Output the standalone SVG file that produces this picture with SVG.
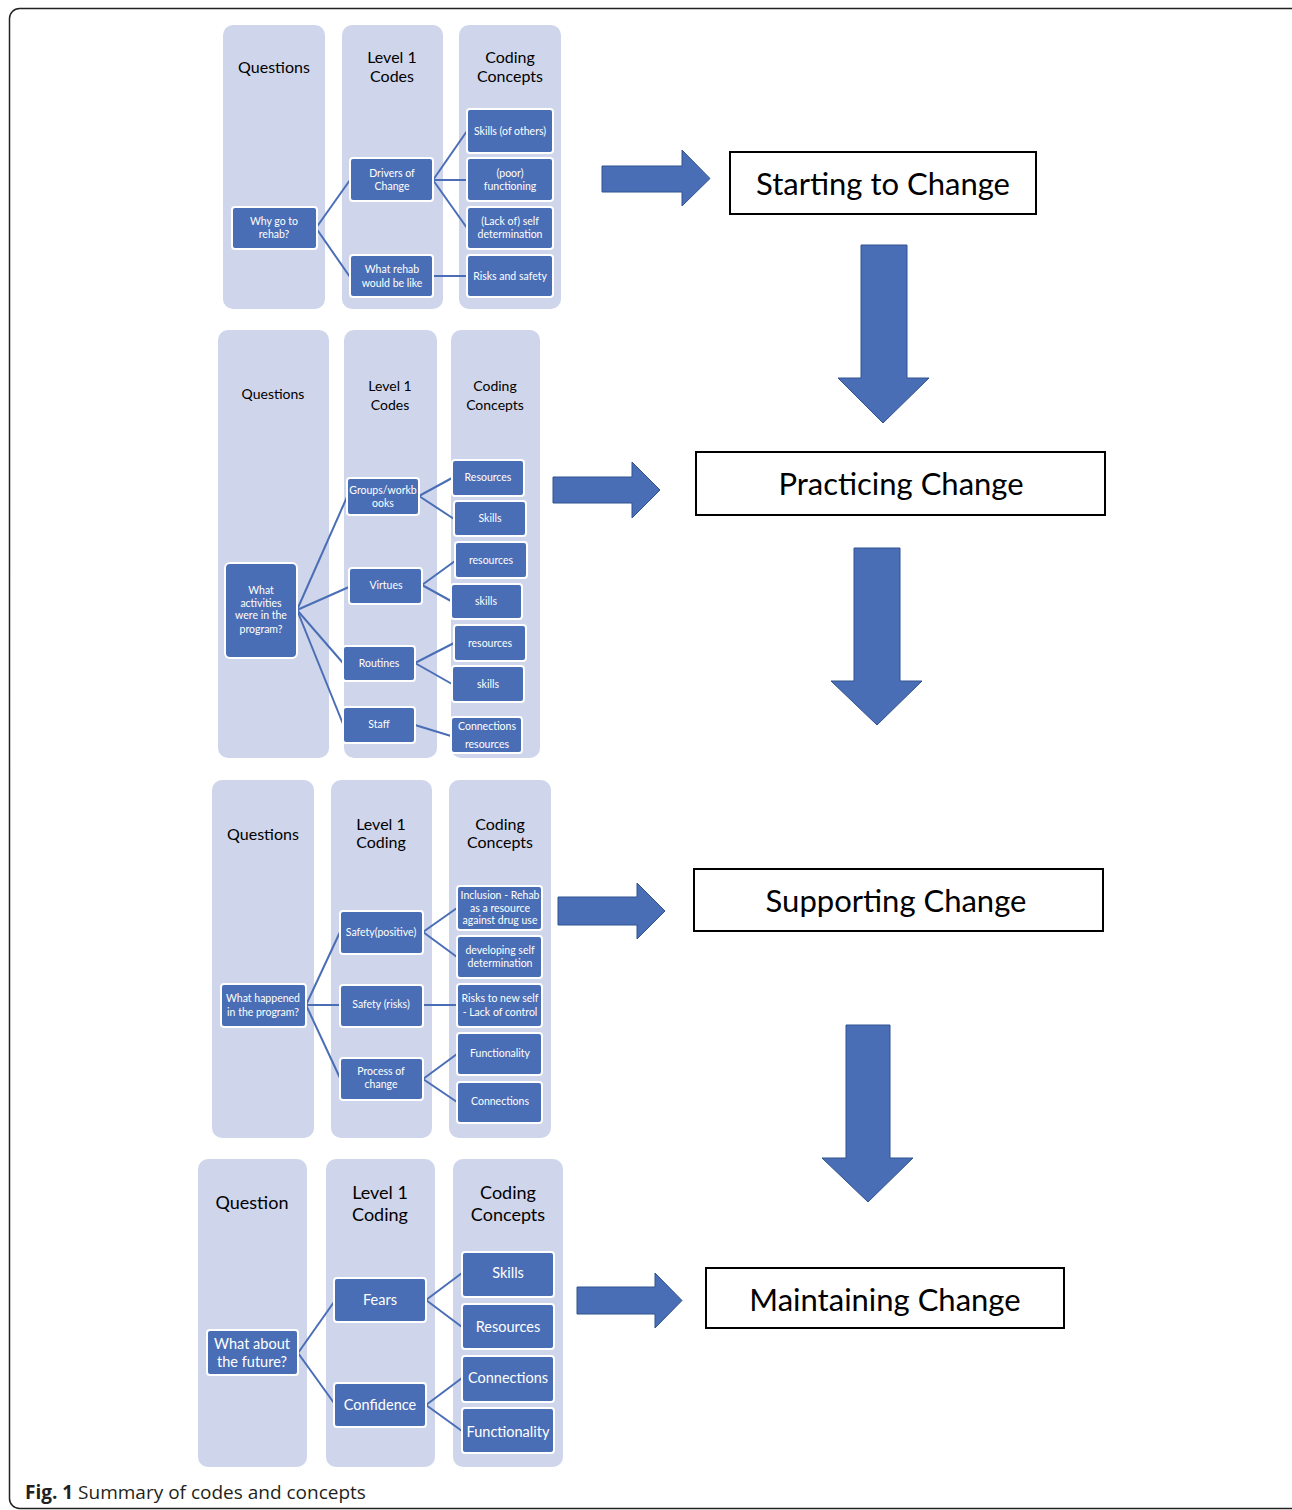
<svg xmlns="http://www.w3.org/2000/svg" width="1292" height="1510" viewBox="0 0 1292 1510">
<style>
.col{fill:#CFD5EA}
.nd{fill:#4A6EB6;stroke:#ffffff;stroke-width:2}
.hd{font-family:Lato,"Liberation Sans",sans-serif;fill:#000;text-anchor:middle}
.nt{font-family:Lato,"Liberation Sans",sans-serif;fill:#fff;text-anchor:middle}
.cn{stroke:#4A6EB6;stroke-width:2;fill:none}
.ar{fill:#4A6EB6;stroke:#2F528F;stroke-width:1}
.bx{fill:#fff;stroke:#000;stroke-width:2}
.bt{font-family:Lato,"Liberation Sans",sans-serif;font-size:31px;fill:#000;text-anchor:middle}
</style>
<rect width="1292" height="1510" fill="#fff"/>
<rect x="9.5" y="8.5" width="1292" height="1500" rx="10" fill="none" stroke="#222" stroke-width="1.5"/>

<!-- Panel 1 columns -->
<g id="p1-columns">
<rect class="col" x="223" y="25" width="102" height="284" rx="10"/>
<rect class="col" x="342" y="25" width="101" height="284" rx="10"/>
<rect class="col" x="459" y="25" width="102" height="284" rx="10"/>
<text class="hd" font-size="16"><tspan x="274" y="73">Questions</tspan></text>
<text class="hd" font-size="16"><tspan x="392" y="63">Level 1</tspan><tspan x="392" y="82">Codes</tspan></text>
<text class="hd" font-size="16"><tspan x="510" y="63">Coding</tspan><tspan x="510" y="82">Concepts</tspan></text>
</g>
<g id="connectors">
<!-- panel 1 -->
<line class="cn" x1="316" y1="228" x2="350" y2="180"/>
<line class="cn" x1="316" y1="228" x2="350" y2="277"/>
<line class="cn" x1="433" y1="180" x2="467" y2="131"/>
<line class="cn" x1="433" y1="180" x2="467" y2="180"/>
<line class="cn" x1="433" y1="180" x2="467" y2="228"/>
<line class="cn" x1="433" y1="276" x2="467" y2="276"/>
</g>
<g id="p1-why"><rect class="nd" x="232" y="207" width="85" height="42" rx="3"/><text class="nt" font-size="10.5"><tspan x="274" y="225">Why go to</tspan><tspan x="274" y="238">rehab?</tspan></text></g>
<g id="p1-drivers"><rect class="nd" x="350" y="158" width="83" height="43" rx="3"/><text class="nt" font-size="10.5"><tspan x="392" y="177">Drivers of</tspan><tspan x="392" y="190">Change</tspan></text></g>
<g id="p1-whatrehab"><rect class="nd" x="350" y="255" width="83" height="42" rx="3"/><text class="nt" font-size="10.5"><tspan x="392" y="273">What rehab</tspan><tspan x="392" y="287">would be like</tspan></text></g>
<g id="p1-skills"><rect class="nd" x="467" y="109" width="86" height="44" rx="3"/><text class="nt" font-size="10.5"><tspan x="510" y="135">Skills (of others)</tspan></text></g>
<g id="p1-poor"><rect class="nd" x="467" y="158" width="86" height="43" rx="3"/><text class="nt" font-size="10.5"><tspan x="510" y="177">(poor)</tspan><tspan x="510" y="190">functioning</tspan></text></g>
<g id="p1-lack"><rect class="nd" x="467" y="207" width="86" height="42" rx="3"/><text class="nt" font-size="10.5"><tspan x="510" y="225">(Lack of) self</tspan><tspan x="510" y="238">determination</tspan></text></g>
<g id="p1-risks"><rect class="nd" x="467" y="255" width="86" height="42" rx="3"/><text class="nt" font-size="10.5"><tspan x="510" y="280">Risks and safety</tspan></text></g>

<!-- Panel 2 -->
<g id="p2-columns">
<rect class="col" x="218" y="330" width="111" height="428" rx="10"/>
<rect class="col" x="344" y="330" width="93" height="428" rx="10"/>
<rect class="col" x="451" y="330" width="89" height="428" rx="10"/>
<text class="hd" font-size="14"><tspan x="273" y="399">Questions</tspan></text>
<text class="hd" font-size="14"><tspan x="390" y="391">Level 1</tspan><tspan x="390" y="410">Codes</tspan></text>
<text class="hd" font-size="14"><tspan x="495" y="391">Coding</tspan><tspan x="495" y="410">Concepts</tspan></text>
</g>
<g id="connectors-2">
<line class="cn" x1="297" y1="610" x2="347" y2="497"/>
<line class="cn" x1="297" y1="610" x2="349" y2="587"/>
<line class="cn" x1="297" y1="610" x2="343" y2="663"/>
<line class="cn" x1="297" y1="610" x2="343" y2="724"/>
<line class="cn" x1="419" y1="496" x2="452" y2="478"/>
<line class="cn" x1="419" y1="496" x2="454" y2="519"/>
<line class="cn" x1="422" y1="585" x2="455" y2="561"/>
<line class="cn" x1="422" y1="585" x2="451" y2="601"/>
<line class="cn" x1="415" y1="663" x2="454" y2="643"/>
<line class="cn" x1="415" y1="663" x2="452" y2="684"/>
<line class="cn" x1="415" y1="725" x2="451" y2="736"/>
</g>
<g id="p2-what"><rect class="nd" x="225" y="563" width="72" height="95" rx="5"/><text class="nt" font-size="10.5"><tspan x="261" y="594">What</tspan><tspan x="261" y="607">activities</tspan><tspan x="261" y="619">were in the</tspan><tspan x="261" y="633">program?</tspan></text></g>
<g id="p2-groups"><rect class="nd" x="347" y="478" width="72" height="37" rx="3"/><text class="nt" font-size="10.5"><tspan x="383" y="494">Groups/workb</tspan><tspan x="383" y="507">ooks</tspan></text></g>
<g id="p2-virtues"><rect class="nd" x="349" y="568" width="73" height="36" rx="3"/><text class="nt" font-size="10.5"><tspan x="386" y="589">Virtues</tspan></text></g>
<g id="p2-routines"><rect class="nd" x="343" y="646" width="72" height="35" rx="3"/><text class="nt" font-size="10.5"><tspan x="379" y="667">Routines</tspan></text></g>
<g id="p2-staff"><rect class="nd" x="343" y="707" width="72" height="36" rx="3"/><text class="nt" font-size="10.5"><tspan x="379" y="728">Staff</tspan></text></g>
<g id="p2-resources1"><rect class="nd" x="452" y="460" width="72" height="36" rx="3"/><text class="nt" font-size="10.5"><tspan x="488" y="481">Resources</tspan></text></g>
<g id="p2-skills1"><rect class="nd" x="454" y="501" width="72" height="35" rx="3"/><text class="nt" font-size="10.5"><tspan x="490" y="522">Skills</tspan></text></g>
<g id="p2-resources2"><rect class="nd" x="455" y="542" width="72" height="36" rx="3"/><text class="nt" font-size="10.5"><tspan x="491" y="564">resources</tspan></text></g>
<g id="p2-skills2"><rect class="nd" x="451" y="584" width="71" height="35" rx="3"/><text class="nt" font-size="10.5"><tspan x="486" y="605">skills</tspan></text></g>
<g id="p2-resources3"><rect class="nd" x="454" y="625" width="72" height="36" rx="3"/><text class="nt" font-size="10.5"><tspan x="490" y="647">resources</tspan></text></g>
<g id="p2-skills3"><rect class="nd" x="452" y="666" width="72" height="36" rx="3"/><text class="nt" font-size="10.5"><tspan x="488" y="688">skills</tspan></text></g>
<g id="p2-connections"><rect class="nd" x="451" y="717" width="71" height="36" rx="3"/><text class="nt" font-size="10.5"><tspan x="487" y="730">Connections</tspan><tspan x="487" y="748">resources</tspan></text></g>

<!-- Panel 3 -->
<g id="p3-columns">
<rect class="col" x="212" y="780" width="102" height="358" rx="10"/>
<rect class="col" x="331" y="780" width="101" height="358" rx="10"/>
<rect class="col" x="449" y="780" width="102" height="358" rx="10"/>
<text class="hd" font-size="16"><tspan x="263" y="840">Questions</tspan></text>
<text class="hd" font-size="16"><tspan x="381" y="830">Level 1</tspan><tspan x="381" y="848">Coding</tspan></text>
<text class="hd" font-size="16"><tspan x="500" y="830">Coding</tspan><tspan x="500" y="848">Concepts</tspan></text>
</g>
<g id="connectors-3">
<line class="cn" x1="306" y1="1005" x2="340" y2="932"/>
<line class="cn" x1="306" y1="1005" x2="340" y2="1005"/>
<line class="cn" x1="306" y1="1005" x2="340" y2="1078"/>
<line class="cn" x1="423" y1="932" x2="457" y2="908"/>
<line class="cn" x1="423" y1="932" x2="457" y2="957"/>
<line class="cn" x1="423" y1="1005" x2="457" y2="1005"/>
<line class="cn" x1="423" y1="1079" x2="457" y2="1054"/>
<line class="cn" x1="423" y1="1079" x2="457" y2="1102"/>
</g>
<g id="p3-what"><rect class="nd" x="221" y="984" width="85" height="43" rx="3"/><text class="nt" font-size="10.5"><tspan x="263" y="1002">What happened</tspan><tspan x="263" y="1016">in the program?</tspan></text></g>
<g id="p3-safetypos"><rect class="nd" x="340" y="911" width="83" height="43" rx="3"/><text class="nt" font-size="10.5"><tspan x="381" y="936">Safety(positive)</tspan></text></g>
<g id="p3-safetyrisks"><rect class="nd" x="340" y="985" width="83" height="42" rx="3"/><text class="nt" font-size="10.5"><tspan x="381" y="1008">Safety (risks)</tspan></text></g>
<g id="p3-process"><rect class="nd" x="340" y="1058" width="83" height="42" rx="3"/><text class="nt" font-size="10.5"><tspan x="381" y="1075">Process of</tspan><tspan x="381" y="1088">change</tspan></text></g>
<g id="p3-inclusion"><rect class="nd" x="457" y="886" width="85" height="44" rx="3"/><text class="nt" font-size="10.5"><tspan x="500" y="899">Inclusion - Rehab</tspan><tspan x="500" y="912">as a resource</tspan><tspan x="500" y="924">against drug use</tspan></text></g>
<g id="p3-developing"><rect class="nd" x="457" y="936" width="85" height="42" rx="3"/><text class="nt" font-size="10.5"><tspan x="500" y="954">developing self</tspan><tspan x="500" y="967">determination</tspan></text></g>
<g id="p3-risks"><rect class="nd" x="457" y="984" width="85" height="43" rx="3"/><text class="nt" font-size="10.5"><tspan x="500" y="1002">Risks to new self</tspan><tspan x="500" y="1016">- Lack of control</tspan></text></g>
<g id="p3-functionality"><rect class="nd" x="457" y="1033" width="85" height="42" rx="3"/><text class="nt" font-size="10.5"><tspan x="500" y="1057">Functionality</tspan></text></g>
<g id="p3-connections"><rect class="nd" x="457" y="1082" width="85" height="41" rx="3"/><text class="nt" font-size="10.5"><tspan x="500" y="1105">Connections</tspan></text></g>

<!-- Panel 4 -->
<g id="p4-columns">
<rect class="col" x="198" y="1159" width="109" height="308" rx="10"/>
<rect class="col" x="326" y="1159" width="109" height="308" rx="10"/>
<rect class="col" x="453" y="1159" width="110" height="308" rx="10"/>
<text class="hd" font-size="18"><tspan x="252" y="1209">Question</tspan></text>
<text class="hd" font-size="18"><tspan x="380" y="1199">Level 1</tspan><tspan x="380" y="1221">Coding</tspan></text>
<text class="hd" font-size="18"><tspan x="508" y="1199">Coding</tspan><tspan x="508" y="1221">Concepts</tspan></text>
</g>
<g id="connectors-4">
<line class="cn" x1="298" y1="1353" x2="334" y2="1302"/>
<line class="cn" x1="298" y1="1353" x2="334" y2="1403"/>
<line class="cn" x1="426" y1="1300" x2="462" y2="1273"/>
<line class="cn" x1="426" y1="1300" x2="462" y2="1327"/>
<line class="cn" x1="426" y1="1405" x2="462" y2="1378"/>
<line class="cn" x1="426" y1="1405" x2="462" y2="1431"/>
</g>
<g id="p4-what"><rect class="nd" x="207" y="1330" width="91" height="45" rx="3"/><text class="nt" font-size="14.5"><tspan x="252" y="1349">What about</tspan><tspan x="252" y="1367">the future?</tspan></text></g>
<g id="p4-fears"><rect class="nd" x="334" y="1278" width="92" height="44" rx="3"/><text class="nt" font-size="14.5"><tspan x="380" y="1305">Fears</tspan></text></g>
<g id="p4-confidence"><rect class="nd" x="334" y="1383" width="92" height="44" rx="3"/><text class="nt" font-size="14.5"><tspan x="380" y="1410">Confidence</tspan></text></g>
<g id="p4-skills"><rect class="nd" x="462" y="1252" width="92" height="45" rx="3"/><text class="nt" font-size="14.5"><tspan x="508" y="1278">Skills</tspan></text></g>
<g id="p4-resources"><rect class="nd" x="462" y="1304" width="92" height="45" rx="3"/><text class="nt" font-size="14.5"><tspan x="508" y="1332">Resources</tspan></text></g>
<g id="p4-connections"><rect class="nd" x="462" y="1356" width="92" height="46" rx="3"/><text class="nt" font-size="14.5"><tspan x="508" y="1383">Connections</tspan></text></g>
<g id="p4-functionality"><rect class="nd" x="462" y="1408" width="92" height="45" rx="3"/><text class="nt" font-size="14.5"><tspan x="508" y="1437">Functionality</tspan></text></g>

<!-- Block arrows -->
<g id="arrows">
<path class="ar" d="M602,166 H682 V150 L710,178.5 L682,206 V192 H602 Z"/>
<path class="ar" d="M861,245 H907 V378 H929 L883,423 L838,378 H861 Z"/>
<path class="ar" d="M553,477 H632 V462 L660,490 L632,518 V503 H553 Z"/>
<path class="ar" d="M854,548 H900 V681 H922 L877,725 L831,681 H854 Z"/>
<path class="ar" d="M558,897 H637 V883 L665,911 L637,939 V925 H558 Z"/>
<path class="ar" d="M846,1025 H890 V1158 H913 L868,1202 L822,1158 H846 Z"/>
<path class="ar" d="M577,1287 H655 V1273 L682,1300.5 L655,1328 V1314 H577 Z"/>
</g>

<!-- Stage boxes -->
<g id="stage-starting"><rect class="bx" x="730" y="152" width="306" height="62"/><text class="bt" x="883" y="195">Starting to Change</text></g>
<g id="stage-practicing"><rect class="bx" x="696" y="452" width="409" height="63"/><text class="bt" x="901" y="495">Practicing Change</text></g>
<g id="stage-supporting"><rect class="bx" x="694" y="869" width="409" height="62"/><text class="bt" x="896" y="912">Supporting Change</text></g>
<g id="stage-maintaining"><rect class="bx" x="706" y="1268" width="358" height="60"/><text class="bt" x="885" y="1311">Maintaining Change</text></g>

<text x="25" y="1499" font-family="'Open Sans','Noto Sans',sans-serif" font-size="19" fill="#231F20"><tspan font-weight="bold">Fig. 1</tspan> Summary of codes and concepts</text>
</svg>
